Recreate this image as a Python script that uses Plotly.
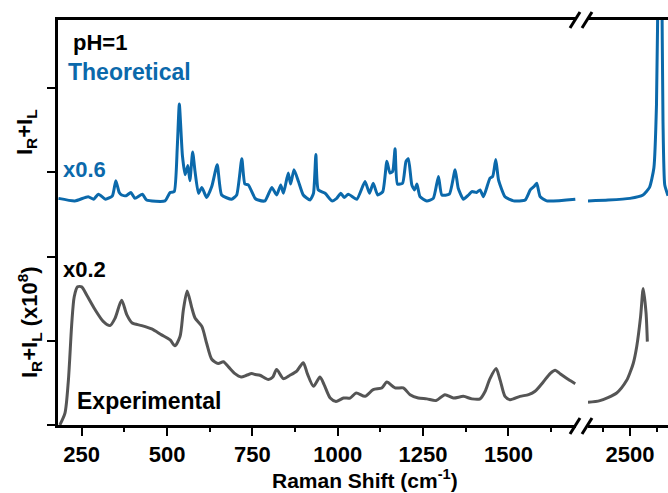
import plotly.graph_objects as go

# ---------------- data ----------------
theo_x = [182, 230, 269, 285, 299, 320, 340, 350, 360, 367, 380, 394, 406, 428, 440, 494, 509, 521,
          530, 536, 545, 553, 561, 567, 575, 582, 592, 602, 616, 631, 647, 660, 689, 704, 719, 728,
          738, 758, 767, 787, 807, 821, 833, 841, 855, 862, 872, 885, 899, 919, 929, 936, 943, 963,
          983, 997, 1009, 1019, 1031, 1056, 1080, 1093, 1104, 1117, 1132, 1144, 1153, 1161, 1168,
          1175, 1190, 1200, 1207, 1217, 1225, 1232, 1241, 1261, 1280, 1295, 1305, 1327, 1344, 1353,
          1368, 1383, 1393, 1407, 1417, 1427, 1446, 1454, 1463, 1471, 1490, 1515, 1549, 1564, 1575,
          1583, 1593, 1612, 1696]
theo_y = [2.69, 2.66, 2.71, 2.68, 2.74, 2.68, 2.72, 2.90, 2.76, 2.73, 2.72, 2.76, 2.69, 2.74, 2.67,
          2.66, 2.76, 2.77, 3.30, 3.81, 3.20, 2.97, 3.08, 2.90, 3.24, 3.01, 2.75, 2.82, 2.70, 2.83,
          3.09, 2.73, 2.68, 2.73, 3.16, 2.86, 2.85, 2.69, 2.67, 2.66, 2.82, 2.73, 2.85, 2.75, 2.99,
          2.86, 3.03, 2.89, 2.73, 2.67, 2.75, 3.21, 2.79, 2.75, 2.66, 2.69, 2.75, 2.70, 2.74, 2.68,
          2.89, 2.75, 2.87, 2.73, 2.77, 3.13, 2.99, 3.01, 3.28, 2.86, 2.87, 3.13, 3.16, 2.85, 2.79,
          2.86, 2.71, 2.66, 2.69, 2.95, 2.73, 2.74, 3.03, 2.81, 2.68, 2.73, 2.77, 2.76, 2.79, 2.71,
          2.93, 2.95, 3.15, 2.91, 2.71, 2.66, 2.67, 2.79, 2.83, 2.87, 2.71, 2.66, 2.68]

theo_hi_x = [2307, 2400, 2500, 2560, 2590, 2610, 2622, 2630, 2638, 2646, 2652, 2660, 2675]
theo_hi_y = [2.66, 2.67, 2.69, 2.73, 2.82, 3.05, 3.80, 5.50, 8.00, 5.50, 3.60, 2.85, 2.72]

exp_x = [186, 201, 211, 221, 228, 238, 250, 265, 289, 313, 333, 348, 367, 382, 398, 426, 455, 484,
         509, 523, 538, 548, 559, 572, 582, 602, 616, 631, 650, 665, 680, 699, 717, 733, 748, 758,
         772, 797, 810, 821, 841, 860, 880, 899, 911, 929, 948, 960, 978, 995, 1017, 1036, 1054,
         1080, 1104, 1129, 1144, 1168, 1192, 1212, 1236, 1261, 1288, 1314, 1339, 1368, 1393, 1417,
         1432, 1446, 1464, 1476, 1490, 1505, 1534, 1559, 1578, 1602, 1622, 1637, 1651, 1676, 1696]
exp_y = [0.00, 0.14, 0.53, 1.21, 1.52, 1.64, 1.64, 1.54, 1.37, 1.23, 1.18, 1.27, 1.48, 1.31, 1.21,
         1.18, 1.14, 1.07, 1.01, 0.94, 1.05, 1.37, 1.59, 1.40, 1.27, 1.17, 0.97, 0.78, 0.73, 0.75,
         0.69, 0.61, 0.57, 0.59, 0.61, 0.60, 0.59, 0.54, 0.57, 0.66, 0.55, 0.59, 0.64, 0.74, 0.61,
         0.46, 0.57, 0.48, 0.32, 0.28, 0.32, 0.32, 0.38, 0.34, 0.42, 0.44, 0.51, 0.44, 0.44, 0.36,
         0.32, 0.31, 0.29, 0.36, 0.32, 0.34, 0.31, 0.31, 0.40, 0.55, 0.67, 0.53, 0.34, 0.30, 0.34,
         0.36, 0.40, 0.51, 0.61, 0.65, 0.61, 0.54, 0.49]

exp_hi_x = [2307, 2362, 2439, 2485, 2500, 2515, 2531, 2549, 2561, 2574, 2580]
exp_hi_y = [0.27, 0.29, 0.38, 0.53, 0.62, 0.73, 0.93, 1.29, 1.62, 1.33, 0.99]

left_ticks = [250, 500, 750, 1000, 1250, 1500]
right_ticks = [2500]

BLUE = "#0b69ab"
GRAY = "#555555"
FONT = "Liberation Sans, Arial, sans-serif"

fig = go.Figure()
fig.add_trace(go.Scatter(x=theo_x, y=theo_y, mode="lines",
                         line=dict(color=BLUE, width=3, shape="spline", smoothing=0.5),
                         xaxis="x", yaxis="y", showlegend=False))
fig.add_trace(go.Scatter(x=exp_x, y=exp_y, mode="lines",
                         line=dict(color=GRAY, width=3, shape="spline", smoothing=0.7),
                         xaxis="x", yaxis="y", showlegend=False))
fig.add_trace(go.Scatter(x=theo_hi_x, y=theo_hi_y, mode="lines",
                         line=dict(color=BLUE, width=3, shape="spline", smoothing=0.5),
                         xaxis="x2", yaxis="y", showlegend=False))
fig.add_trace(go.Scatter(x=exp_hi_x, y=exp_hi_y, mode="lines",
                         line=dict(color=GRAY, width=3, shape="spline", smoothing=0.7),
                         xaxis="x2", yaxis="y", showlegend=False))

W, H = 668, 493
ml, mr, mt, mb = 58, 0, 20, 68
pw, ph = W - ml - mr, H - mt - mb

def px(x):
    return (x - ml) / pw

def py(y):
    return (H - mb - y) / ph

axis_common = dict(showline=True, linecolor="black", linewidth=3, mirror=True,
                   ticks="outside", ticklen=8, tickwidth=2, tickcolor="black",
                   showgrid=False, zeroline=False,
                   tickfont=dict(family=FONT, size=22, color="black", weight="bold"),
                   minor=dict(ticks="outside", ticklen=4, tickwidth=2, tickcolor="black", dtick=125))

fig.update_layout(
    width=W, height=H,
    margin=dict(l=ml, r=mr, t=mt, b=mb),
    plot_bgcolor="white", paper_bgcolor="white",
    font=dict(family=FONT, color="black"),
    xaxis=dict(domain=[0, px(576)], range=[180.6, 1698], tickvals=left_ticks,
               anchor="y", **axis_common),
    xaxis2=dict(domain=[px(588), 1], range=[2307, 2675], tickvals=right_ticks,
                anchor="y", **axis_common),
    yaxis=dict(range=[0, 4.807], dtick=1, tick0=0, showticklabels=False,
               showline=True, linecolor="black", linewidth=3, ticks="outside",
               ticklen=8, tickwidth=2, tickcolor="black", showgrid=False, zeroline=False,
               anchor="x"),
)

def ann(text, x, y, color="black", size=20, xanchor="left", angle=0):
    fig.add_annotation(text=text, x=x, y=y, xref="paper", yref="paper", showarrow=False,
                       xanchor=xanchor, yanchor="middle", textangle=angle,
                       font=dict(family=FONT, size=size, color=color, weight="bold"))

ann("pH=1", px(71), py(42), size=22)
ann("Theoretical", px(66), py(72), color=BLUE, size=23)
ann("x0.6", px(61), py(169), color=BLUE, size=22)
ann("x0.2", px(61), py(269), size=22)
ann("Experimental", px(75), py(401), size=23)
ann("Raman Shift (cm<sup>-1</sup>)", px(365), py(479), size=21, xanchor="center")
ann("I<sub>R</sub>+I<sub>L</sub>", px(26), py(132), size=22, xanchor="center", angle=-90)
ann("I<sub>R</sub>+I<sub>L</sub> (x10<sup>8</sup>)", px(29), py(322), size=22, xanchor="center", angle=-90)

# axis-break marks
for yb in (20, 426):
    for x0 in (570, 582):
        fig.add_shape(type="line", xref="paper", yref="paper",
                      x0=px(x0), y0=py(yb + 8), x1=px(x0 + 10), y1=py(yb - 8),
                      line=dict(color="black", width=3))

fig.write_html("out.html")
